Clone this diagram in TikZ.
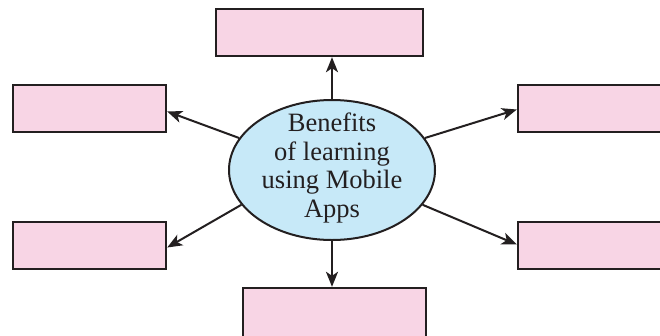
\documentclass[tikz,border=0pt]{standalone}
\usepackage{fontspec}
\setmainfont{Liberation Serif}
\usetikzlibrary{shapes.geometric,arrows.meta}
\definecolor{boxpink}{RGB}{248,213,229}
\definecolor{ellblue}{RGB}{199,233,248}
\definecolor{inkdark}{RGB}{35,31,32}
\tikzset{
  blank/.style={draw=inkdark, line width=2.4pt, fill=boxpink, rectangle, inner sep=0pt},
  centre/.style={draw=inkdark, line width=2pt, fill=ellblue, ellipse, inner sep=0pt,
    minimum width=206pt, minimum height=140pt},
  caption/.style={align=center, text=inkdark, inner sep=0pt,
    font=\fontsize{26.5pt}{28.7pt}\selectfont},
  link/.style={draw=inkdark, line width=2pt, -{Stealth[length=15pt,width=12pt,inset=4pt]}}
}
\begin{document}
\begin{tikzpicture}[x=1pt,y=-1pt]
\clip (0,0) rectangle (660,335);
\fill[white] (0,0) rectangle (660,335);
\node[blank, minimum width=207pt, minimum height=47pt] (top) at (319.5,32.5) {};
\node[blank, minimum width=153pt, minimum height=47pt] (ltop) at (89.5,108.5) {};
\node[blank, minimum width=160pt, minimum height=47pt] (rtop) at (598,108.5) {};
\node[blank, minimum width=153pt, minimum height=47pt] (lbot) at (89.5,245.5) {};
\node[blank, minimum width=160pt, minimum height=47pt] (rbot) at (598,245.5) {};
\node[blank, minimum width=183pt, minimum height=60pt] (bot) at (334.5,318) {};
\node[centre] (e) at (332,170) {};
\node[caption] (lbl) at (332,168) {Benefits\\of learning\\using Mobile\\Apps};
\draw[link] (e.north) -- (e.north |- top.south);
\draw[link] (e.south) -- (e.south |- bot.north);
\draw[link] (e.161) -- ([yshift=-3pt]ltop.east);
\draw[link] (e.19) -- ([yshift=-1pt]rtop.west);
\draw[link] (e.201) -- ([yshift=-2pt]lbot.east);
\draw[link] (e.339) -- ([yshift=1pt]rbot.west);
\end{tikzpicture}
\end{document}
